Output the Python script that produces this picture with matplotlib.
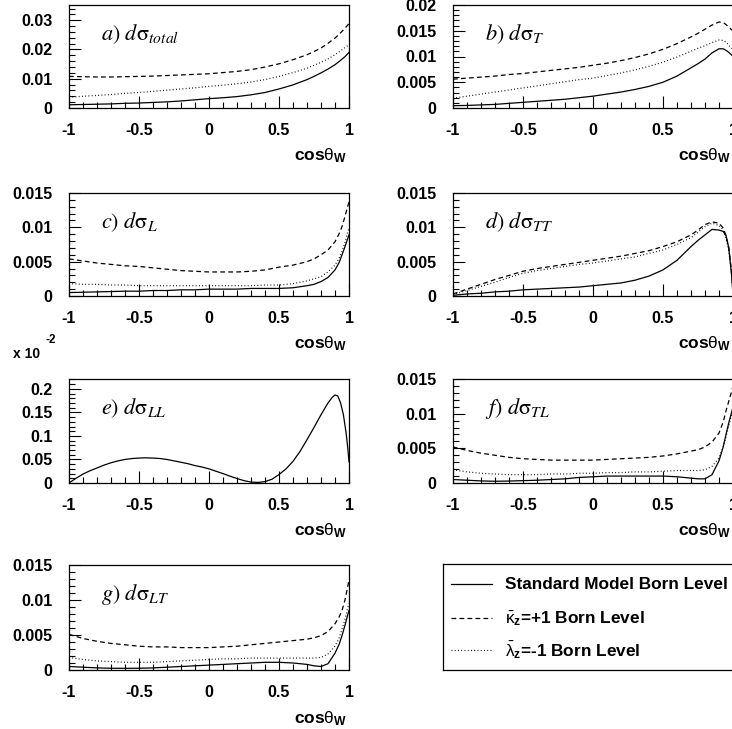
import matplotlib
matplotlib.use("Agg")
import matplotlib.pyplot as plt
from matplotlib.ticker import MultipleLocator, FuncFormatter

plt.rcParams['font.family'] = ['Liberation Sans', 'DejaVu Sans']
plt.rcParams['axes.unicode_minus'] = False
plt.rcParams['mathtext.fontset'] = 'custom'
plt.rcParams['mathtext.rm'] = 'Liberation Sans'
plt.rcParams['mathtext.it'] = 'Liberation Sans:italic'
plt.rcParams['mathtext.bf'] = 'Liberation Sans:bold'

# common cos(theta_W) samples
cos_w = [-1, -0.9, -0.8, -0.7, -0.6, -0.5, -0.4, -0.3, -0.2, -0.1, 0, 0.1, 0.2, 0.3,
         0.4, 0.5, 0.6, 0.7, 0.75, 0.8, 0.85, 0.9, 0.93, 0.95, 0.97, 0.99, 1.0]

# a) total
a_sm = [0.0011, 0.0012, 0.0013, 0.0014, 0.0016, 0.0017, 0.0019, 0.0021, 0.0024, 0.0028, 0.0032, 0.0035,
        0.0039, 0.0045, 0.0053, 0.0065, 0.0079, 0.0097, 0.0108, 0.012, 0.0133, 0.0148, 0.0159, 0.0167,
        0.0175, 0.0185, 0.019]
a_kap = [0.0108, 0.0107, 0.0106, 0.0106, 0.0107, 0.0108, 0.0109, 0.0111, 0.0113, 0.0115, 0.0117, 0.0121,
         0.0125, 0.0131, 0.014, 0.0151, 0.0165, 0.0182, 0.0193, 0.0205, 0.0221, 0.0239, 0.0252, 0.0262,
         0.0272, 0.0283, 0.0288]
a_lam = [0.0037, 0.004, 0.0043, 0.0046, 0.005, 0.0053, 0.0057, 0.0061, 0.0065, 0.0069, 0.0074, 0.0078,
         0.0083, 0.0089, 0.0097, 0.0108, 0.0121, 0.0136, 0.0146, 0.0156, 0.0168, 0.0182, 0.0192, 0.0199,
         0.0206, 0.0213, 0.0216]

# b) T
b_sm = [0.00045, 0.0005, 0.0006, 0.0007, 0.0009, 0.0011, 0.0013, 0.0015, 0.0017, 0.002, 0.0023, 0.0027,
        0.0031, 0.0036, 0.0042, 0.005, 0.0062, 0.0078, 0.0086, 0.0095, 0.0107, 0.0115, 0.0115, 0.0112,
        0.0108, 0.0103, 0.01]
b_kap = [0.0056, 0.0058, 0.006, 0.0062, 0.0065, 0.0067, 0.007, 0.0073, 0.0076, 0.0079, 0.0083, 0.0087,
         0.0092, 0.0098, 0.0105, 0.0114, 0.0125, 0.0138, 0.0145, 0.0153, 0.0161, 0.0167, 0.0166, 0.0162,
         0.0157, 0.0152, 0.015]
b_lam = [0.0019, 0.0023, 0.0027, 0.0031, 0.0035, 0.0039, 0.0043, 0.0047, 0.0051, 0.0055, 0.0058, 0.0063,
         0.0068, 0.0074, 0.0081, 0.0089, 0.0099, 0.011, 0.0116, 0.0121, 0.0127, 0.0132, 0.0131, 0.0128,
         0.0122, 0.0116, 0.0114]

# c) L
c_sm = [0.0005, 0.00055, 0.0006, 0.00065, 0.0007, 0.0007, 0.0008, 0.0008, 0.0009, 0.0009, 0.001, 0.001,
        0.001, 0.0011, 0.0011, 0.0011, 0.0012, 0.0015, 0.0017, 0.0021, 0.0027, 0.0038, 0.0049, 0.006,
        0.0071, 0.0083, 0.0089]
c_kap = [0.0054, 0.0051, 0.0048, 0.0046, 0.0044, 0.0043, 0.0041, 0.0039, 0.0037, 0.0036, 0.0035, 0.0035,
         0.0035, 0.0036, 0.0038, 0.0042, 0.0045, 0.005, 0.0054, 0.006, 0.0067, 0.0079, 0.0091, 0.0101,
         0.0115, 0.013, 0.0137]
c_lam = [0.0018, 0.0017, 0.0017, 0.0016, 0.0016, 0.0015, 0.0015, 0.0015, 0.0015, 0.0015, 0.0015, 0.0015,
         0.0015, 0.0015, 0.0016, 0.0016, 0.0018, 0.0022, 0.0025, 0.0028, 0.0035, 0.0045, 0.0055, 0.0065,
         0.0077, 0.0092, 0.0099]

# d) TT
d_sm = [0.0001, 0.0003, 0.0004, 0.0006, 0.0007, 0.0009, 0.001, 0.0011, 0.0012, 0.0013, 0.0015, 0.0017,
        0.0019, 0.0023, 0.0029, 0.0038, 0.0052, 0.0072, 0.0081, 0.0089, 0.0097, 0.0096, 0.0094, 0.0088,
        0.007, 0.003, 0.0]
d_kap = [0.0003, 0.001, 0.0017, 0.0024, 0.003, 0.0036, 0.004, 0.0043, 0.0046, 0.0049, 0.0052, 0.0055,
         0.0058, 0.0062, 0.0066, 0.0072, 0.0079, 0.0089, 0.0096, 0.0104, 0.0108, 0.0106, 0.0099, 0.0088,
         0.007, 0.0035, 0.001]
d_lam = [0.0002, 0.0008, 0.0014, 0.002, 0.0027, 0.0033, 0.0037, 0.004, 0.0043, 0.0046, 0.0048, 0.0051,
         0.0054, 0.0057, 0.0062, 0.0067, 0.0075, 0.0085, 0.0093, 0.0101, 0.0106, 0.0103, 0.0096, 0.0084,
         0.0066, 0.0032, 0.0008]

# e) LL  (units of 1e-2, all three coincide) - finer samples
e_cos = [-1, -0.95, -0.9, -0.85, -0.8, -0.75, -0.7, -0.65, -0.6, -0.55, -0.5, -0.45, -0.4, -0.35,
         -0.3, -0.25, -0.2, -0.15, -0.1, -0.05, 0, 0.05, 0.1, 0.15, 0.2, 0.25, 0.3, 0.35, 0.4, 0.45,
         0.5, 0.55, 0.6, 0.65, 0.7, 0.75, 0.8, 0.85, 0.88, 0.9, 0.92, 0.94, 0.96, 0.98, 0.99, 1.0]
e_sm = [0.0, 0.010, 0.019, 0.026, 0.032, 0.038, 0.043, 0.047, 0.050, 0.052, 0.053, 0.0535, 0.053, 0.052,
        0.050, 0.047, 0.044, 0.041, 0.037, 0.034, 0.030, 0.025, 0.020, 0.0145, 0.0095, 0.005, 0.002, 0.0012,
        0.003, 0.008, 0.018, 0.030, 0.046, 0.067, 0.092, 0.118, 0.145, 0.170, 0.182, 0.187, 0.185, 0.170,
        0.145, 0.105, 0.078, 0.045]

# f) TL
f_sm = [0.0005, 0.0004, 0.0003, 0.00025, 0.00028, 0.00034, 0.0004, 0.0005, 0.0006, 0.0008, 0.0009, 0.001,
        0.001, 0.001, 0.001, 0.001, 0.0009, 0.0007, 0.0006, 0.0006, 0.0012, 0.0032, 0.0052, 0.007,
        0.0087, 0.0102, 0.011]
f_kap = [0.0052, 0.0047, 0.0043, 0.004, 0.0037, 0.0035, 0.0034, 0.0033, 0.0033, 0.0033, 0.0033, 0.0034,
         0.0035, 0.0036, 0.0037, 0.0039, 0.0042, 0.0046, 0.0048, 0.0052, 0.0059, 0.0072, 0.0088, 0.0104,
         0.0118, 0.0132, 0.014]
f_lam = [0.0019, 0.0016, 0.0014, 0.0013, 0.0012, 0.0012, 0.0012, 0.0013, 0.0013, 0.0014, 0.0014, 0.0015,
         0.0015, 0.0016, 0.0016, 0.0017, 0.0018, 0.0018, 0.0018, 0.0019, 0.0024, 0.0036, 0.0052, 0.0067,
         0.0083, 0.0098, 0.0105]

# g) LT
g_sm = [0.0005, 0.0004, 0.0003, 0.00025, 0.00024, 0.00025, 0.0003, 0.0004, 0.0005, 0.0006, 0.0007, 0.0008,
        0.0009, 0.001, 0.0011, 0.0011, 0.001, 0.0008, 0.0006, 0.0005, 0.0009, 0.0024, 0.0037, 0.0049,
        0.0063, 0.0078, 0.0085]
g_kap = [0.0051, 0.0045, 0.0041, 0.0038, 0.0036, 0.0034, 0.0033, 0.0033, 0.0032, 0.0032, 0.0032, 0.0033,
         0.0034, 0.0036, 0.0038, 0.004, 0.0042, 0.0044, 0.0046, 0.0049, 0.0055, 0.0066, 0.0076, 0.0085,
         0.0099, 0.0118, 0.0129]
g_lam = [0.0018, 0.0015, 0.0013, 0.0012, 0.0011, 0.0011, 0.0011, 0.0012, 0.0013, 0.0014, 0.0015, 0.0016,
         0.0016, 0.0017, 0.0017, 0.0017, 0.0017, 0.0017, 0.0017, 0.0018, 0.0023, 0.0034, 0.0046, 0.0058,
         0.0072, 0.0088, 0.0095]

legend_labels = ["Standard Model Born Level",
                 r"$\bar{\mathrm{\kappa}}_\mathbf{z}$=+1 Born Level",
                 r"$\bar{\mathrm{\lambda}}_\mathbf{z}$=-1 Born Level"]

W, H = 732, 729
fig = plt.figure(figsize=(W / 100, H / 100), dpi=100)

LW = 0.9
DASH = (3.8, 2.6)
DOT = (0.7, 1.9)


def px_axes(left, top, right, bottom):
    return fig.add_axes([left / W, 1 - bottom / H, (right - left) / W, (bottom - top) / H])


def style(ax, ymax, ymajor, yminor):
    ax.set_xlim(-1, 1)
    ax.set_ylim(0, ymax)
    ax.xaxis.set_major_locator(MultipleLocator(0.5))
    ax.xaxis.set_minor_locator(MultipleLocator(0.1))
    ax.yaxis.set_major_locator(MultipleLocator(ymajor))
    ax.yaxis.set_minor_locator(MultipleLocator(yminor))
    ax.xaxis.set_major_formatter(FuncFormatter(lambda v, p: "%g" % round(v, 4)))
    ax.yaxis.set_major_formatter(FuncFormatter(lambda v, p: "%g" % round(v, 5)))
    ax.tick_params(which='both', direction='in', top=False, right=False, width=0.8)
    ax.tick_params(which='major', length=8.5)
    ax.tick_params(which='minor', length=4.5)
    ax.tick_params(axis='y', which='major', pad=12, labelsize=11.5)
    ax.tick_params(axis='x', which='major', pad=11, labelsize=11.5)
    for lab in ax.get_xticklabels() + ax.get_yticklabels():
        lab.set_fontweight('bold')
    for s in ax.spines.values():
        s.set_linewidth(0.9)
    ax.text(0.995, -0.46, r"cos$\mathrm{\theta}_\mathbf{W}$", transform=ax.transAxes,
            ha='right', va='center', fontsize=12.5, fontweight='bold', clip_on=False)


def curves(ax, xs, sm, kap=None, lam=None):
    ax.plot(xs, sm, color='black', lw=LW)
    if kap is not None:
        ax.plot(xs, kap, color='black', lw=LW, dashes=DASH)
    if lam is not None:
        ax.plot(xs, lam, color='black', lw=LW, dashes=DOT)


def label(ax, letter, sub):
    ax.text(0.115, 0.72, r"$%s)\ d\mathrm{\sigma}_{%s}$" % (letter, sub), transform=ax.transAxes,
            ha='left', va='center', fontsize=16, math_fontfamily='stix')


L0, L1 = 69, 349
R0, R1 = 453, 733
rows = [(5, 108), (193, 296), (379, 483), (565, 670)]

ax_a = px_axes(L0, rows[0][0], L1, rows[0][1])
curves(ax_a, cos_w, a_sm, a_kap, a_lam)
style(ax_a, 0.0352, 0.01, 0.002)
label(ax_a, "a", "total")

ax_b = px_axes(R0, rows[0][0], R1, rows[0][1])
curves(ax_b, cos_w, b_sm, b_kap, b_lam)
style(ax_b, 0.02, 0.005, 0.001)
label(ax_b, "b", "T")

ax_c = px_axes(L0, rows[1][0], L1, rows[1][1])
curves(ax_c, cos_w, c_sm, c_kap, c_lam)
style(ax_c, 0.015, 0.005, 0.001)
label(ax_c, "c", "L")

ax_d = px_axes(R0, rows[1][0], R1, rows[1][1])
curves(ax_d, cos_w, d_sm, d_kap, d_lam)
style(ax_d, 0.015, 0.005, 0.001)
label(ax_d, "d", "TT")

ax_e = px_axes(L0, rows[2][0], L1, rows[2][1])
curves(ax_e, e_cos, e_sm)
style(ax_e, 0.221, 0.05, 0.01)
label(ax_e, "e", "LL")
fig.text(13 / W, 1 - 354 / H, "x 10", fontsize=10, fontweight='bold', ha='left', va='center')
fig.text(45 / W, 1 - 340 / H, "-2", fontsize=8.5, fontweight='bold', ha='left', va='center')

ax_f = px_axes(R0, rows[2][0], R1, rows[2][1])
curves(ax_f, cos_w, f_sm, f_kap, f_lam)
style(ax_f, 0.015, 0.005, 0.001)
label(ax_f, "f", "TL")

ax_g = px_axes(L0, rows[3][0], L1, rows[3][1])
curves(ax_g, cos_w, g_sm, g_kap, g_lam)
style(ax_g, 0.015, 0.005, 0.001)
label(ax_g, "g", "LT")

# legend box
ax_l = px_axes(443, 564, 740, 670)
ax_l.set_xlim(0, 1)
ax_l.set_ylim(0, 1)
ax_l.set_xticks([])
ax_l.set_yticks([])
for s in ax_l.spines.values():
    s.set_linewidth(0.9)
styles = [None, DASH, DOT]
ys = [0.81, 0.49, 0.19]
for lab, ds, yy in zip(legend_labels, styles, ys):
    if ds is None:
        ax_l.plot([0.027, 0.165], [yy, yy], color='black', lw=LW)
    else:
        ax_l.plot([0.027, 0.165], [yy, yy], color='black', lw=LW, dashes=ds)
    ax_l.text(0.209, yy, lab, ha='left', va='center', fontsize=12.4, fontweight='bold')

fig.savefig("out.png", dpi=100)
